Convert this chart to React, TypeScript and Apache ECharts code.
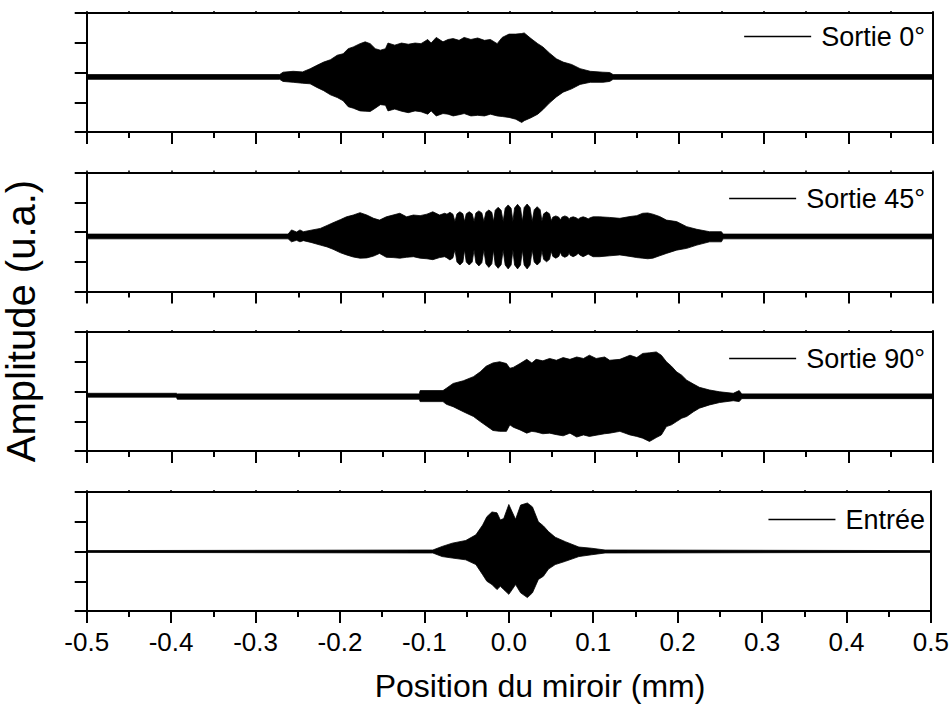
import React, { useEffect, useRef } from "react";
import * as echarts from "echarts";

// ---------- data ----------
const panelNames = ["Sortie 0°", "Sortie 45°", "Sortie 90°", "Entrée"];

// Sortie 0° : upper / lower envelope of the interferogram
const x0 = [-0.5, -0.272, -0.268, -0.256, -0.245, -0.236, -0.228, -0.22, -0.212, -0.204, -0.197, -0.191, -0.185, -0.177, -0.171, -0.165, -0.159, -0.153, -0.147, -0.144, -0.136, -0.128, -0.12, -0.112, -0.105, -0.097, -0.093, -0.087, -0.079, -0.073, -0.067, -0.06, -0.054, -0.046, -0.038, -0.03, -0.023, -0.015, -0.009, -0.001, 0.007, 0.014, 0.017, 0.025, 0.033, 0.039, 0.047, 0.055, 0.063, 0.073, 0.083, 0.095, 0.11, 0.118, 0.122, 0.5];
const up0 = [-0.07, -0.07, 0.01, 0.04, 0.02, 0.125, 0.24, 0.35, 0.43, 0.58, 0.63, 0.8, 0.86, 0.97, 1.03, 0.97, 0.8, 0.75, 0.8, 0.99, 0.92, 0.99, 0.95, 0.99, 0.97, 1.11, 0.99, 1.18, 1.03, 1.11, 1.14, 1.08, 1.18, 1.11, 1.16, 1.08, 1.11, 0.97, 1.18, 1.29, 1.29, 1.31, 1.33, 1.14, 0.97, 0.86, 0.65, 0.46, 0.35, 0.27, 0.13, 0.04, 0.01, 0.0, -0.07, -0.07];
const lo0 = [-0.23, -0.23, -0.3, -0.33, -0.36, -0.38, -0.5, -0.61, -0.75, -0.84, -0.95, -1.15, -1.2, -1.29, -1.3, -1.31, -1.2, -1.08, -1.1, -1.29, -1.23, -1.3, -1.35, -1.29, -1.32, -1.4, -1.29, -1.46, -1.38, -1.4, -1.46, -1.42, -1.38, -1.46, -1.44, -1.46, -1.4, -1.46, -1.48, -1.51, -1.57, -1.68, -1.62, -1.52, -1.4, -1.25, -1.02, -0.82, -0.66, -0.55, -0.4, -0.33, -0.33, -0.3, -0.23, -0.23];

// Sortie 45°
const x45 = [-0.5, -0.262, -0.258, -0.252, -0.248, -0.244, -0.235, -0.224, -0.216, -0.209, -0.2, -0.193, -0.185, -0.177, -0.169, -0.161, -0.154, -0.146, -0.138, -0.13, -0.122, -0.114, -0.106, -0.098, -0.091, -0.083, -0.077,
  -0.0743, -0.0708, -0.0673, -0.0649, -0.0625, -0.059, -0.0555, -0.0535, -0.0515, -0.048, -0.0445, -0.0423, -0.0401, -0.0366, -0.0331, -0.0307, -0.0283, -0.0248, -0.0213, -0.0193, -0.0173, -0.0138, -0.0103, -0.0079, -0.0055, -0.002, 0.0015, 0.0036, 0.0056, 0.0091, 0.0126, 0.0148, 0.0169, 0.0204, 0.0239, 0.0264, 0.0288, 0.0323, 0.0358, 0.0379, 0.0399, 0.0434, 0.0469, 0.0489, 0.0508, 0.0543, 0.0578, 0.0597, 0.0615, 0.065, 0.0685, 0.07, 0.0713, 0.0748, 0.0783, 0.0807, 0.0831, 0.0866, 0.0901, 0.0925, 0.0949, 0.0984,
  0.106, 0.118, 0.13, 0.142, 0.15, 0.157, 0.163, 0.169, 0.177, 0.185, 0.197, 0.209, 0.221, 0.236, 0.25, 0.252, 0.5];
const up45 = [-0.07, -0.07, 0.07, 0.0, 0.07, 0.01, 0.06, 0.12, 0.22, 0.31, 0.42, 0.51, 0.57, 0.65, 0.57, 0.46, 0.4, 0.51, 0.57, 0.63, 0.51, 0.57, 0.55, 0.6, 0.68, 0.57, 0.63,
  0.6, 0.66, 0.6, 0.35, 0.61, 0.68, 0.61, 0.35, 0.61, 0.68, 0.61, 0.35, 0.64, 0.71, 0.64, 0.35, 0.66, 0.74, 0.66, 0.35, 0.73, 0.83, 0.73, 0.35, 0.8, 0.91, 0.8, 0.35, 0.81, 0.93, 0.81, 0.35, 0.82, 0.94, 0.82, 0.35, 0.75, 0.85, 0.75, 0.36, 0.61, 0.68, 0.61, 0.38, 0.5, 0.54, 0.5, 0.4, 0.5, 0.54, 0.5, 0.42, 0.48, 0.51, 0.48, 0.43, 0.48, 0.51, 0.48, 0.44, 0.48, 0.51,
  0.51, 0.49, 0.46, 0.52, 0.55, 0.63, 0.64, 0.6, 0.52, 0.4, 0.35, 0.18, 0.09, 0.01, 0.01, -0.07, -0.07];
const lo45 = [-0.23, -0.23, -0.33, -0.28, -0.33, -0.29, -0.35, -0.44, -0.5, -0.58, -0.7, -0.77, -0.84, -0.88, -0.87, -0.81, -0.72, -0.85, -0.86, -0.88, -0.85, -0.83, -0.88, -0.9, -0.93, -0.86, -0.83,
  -0.87, -0.94, -0.87, -0.6, -1.01, -1.11, -1.01, -0.6, -1.01, -1.11, -1.01, -0.6, -1.03, -1.14, -1.03, -0.6, -1.07, -1.19, -1.07, -0.6, -1.1, -1.22, -1.1, -0.6, -1.11, -1.24, -1.11, -0.6, -1.11, -1.24, -1.11, -0.6, -1.11, -1.24, -1.11, -0.6, -1.01, -1.11, -1.01, -0.62, -0.92, -1.0, -0.92, -0.65, -0.82, -0.88, -0.82, -0.68, -0.8, -0.85, -0.8, -0.7, -0.78, -0.83, -0.78, -0.72, -0.78, -0.83, -0.78, -0.74, -0.78, -0.83,
  -0.83, -0.8, -0.77, -0.82, -0.86, -0.88, -0.9, -0.88, -0.8, -0.72, -0.61, -0.55, -0.44, -0.33, -0.33, -0.23, -0.23];

// Sortie 90°
const x90 = [-0.5, -0.394, -0.393, -0.107, -0.106, -0.079, -0.075, -0.067, -0.055, -0.043, -0.035, -0.028, -0.02, -0.012, -0.004, 0.0, 0.004, 0.012, 0.02, 0.026, 0.031, 0.039, 0.047, 0.055, 0.063, 0.071, 0.079, 0.087, 0.094, 0.102, 0.112, 0.118, 0.13, 0.142, 0.15, 0.157, 0.165, 0.173, 0.179, 0.185, 0.191, 0.197, 0.203, 0.209, 0.217, 0.224, 0.236, 0.248, 0.264, 0.271, 0.274, 0.5];
const up90 = [-0.06, -0.06, -0.08, -0.08, 0.03, 0.03, 0.11, 0.27, 0.36, 0.5, 0.66, 0.85, 0.96, 1.0, 0.94, 0.78, 0.81, 0.94, 1.08, 0.96, 1.08, 1.03, 1.11, 1.05, 1.14, 1.08, 1.16, 1.11, 1.22, 1.11, 1.16, 1.05, 1.08, 1.22, 1.14, 1.28, 1.3, 1.33, 1.22, 1.0, 0.85, 0.66, 0.55, 0.38, 0.25, 0.14, 0.05, -0.01, -0.06, 0.03, -0.08, -0.08];
const lo90 = [-0.19, -0.19, -0.26, -0.26, -0.34, -0.34, -0.43, -0.51, -0.68, -0.84, -1.01, -1.15, -1.31, -1.34, -1.34, -1.12, -1.2, -1.29, -1.4, -1.34, -1.36, -1.42, -1.4, -1.45, -1.49, -1.4, -1.53, -1.46, -1.51, -1.47, -1.42, -1.4, -1.34, -1.46, -1.51, -1.57, -1.68, -1.55, -1.46, -1.18, -1.12, -1.01, -0.9, -0.84, -0.68, -0.56, -0.45, -0.37, -0.31, -0.34, -0.24, -0.24];

// Entrée
const xIn = [-0.5, -0.09, -0.079, -0.067, -0.051, -0.039, -0.031, -0.026, -0.02, -0.014, -0.01, -0.006, 0.0, 0.004, 0.008, 0.014, 0.022, 0.028, 0.035, 0.041, 0.047, 0.055, 0.067, 0.083, 0.098, 0.114, 0.5];
const upIn = [0.03, 0.05, 0.17, 0.28, 0.37, 0.56, 0.89, 1.17, 1.33, 1.3, 1.06, 1.11, 1.58, 1.33, 1.08, 1.56, 1.63, 1.5, 1.0, 0.86, 0.67, 0.48, 0.33, 0.15, 0.11, 0.05, 0.03];
const loIn = [-0.03, -0.05, -0.17, -0.22, -0.28, -0.44, -0.78, -1.0, -1.11, -1.28, -1.17, -1.28, -1.44, -1.28, -1.11, -1.39, -1.55, -1.39, -0.94, -0.83, -0.59, -0.44, -0.33, -0.17, -0.11, -0.05, -0.03];

const xTickMin = -0.5;
const xTickMax = 0.5;
const xTickStep = 0.1;
const yMin = -2;
const yMax = 2;
const yStep = 1;

const xTitle = "Position du miroir (mm)";
const yTitle = "Amplitude (u.a.)";

// ---------- layout ----------
const FONT = "'Liberation Sans', Arial, sans-serif";
const FS_TICK = 26;
const FS_LEGEND = 27;
const FS_XTITLE = 32;
const FS_YTITLE = 40;
const gridLeft = 86.7;
const gridRight = 19;
const gridTops = [13, 172.5, 332, 492];
const gridHeight = 119;
const legendTops = [23, 185, 345, 506];

const panels = [
  { x: x0, up: up0, lo: lo0 },
  { x: x45, up: up45, lo: lo45 },
  { x: x90, up: up90, lo: lo90 },
  { x: xIn, up: upIn, lo: loIn },
];

function buildOption(): any {
  const grid: any[] = [];
  const xAxis: any[] = [];
  const yAxis: any[] = [];
  const series: any[] = [];
  const legend: any[] = [];
  const black = "#000";

  panels.forEach((p, i) => {
    grid.push({ left: gridLeft, right: gridRight, top: gridTops[i], height: gridHeight });
    xAxis.push({
      type: "value",
      gridIndex: i,
      position: "bottom",
      min: xTickMin,
      max: xTickMax,
      interval: xTickStep,
      axisLine: { show: true, onZero: false, lineStyle: { color: black, width: 2 } },
      axisTick: { show: true, inside: false, length: 12, lineStyle: { color: black, width: 2 } },
      minorTick: { show: true, splitNumber: 2, length: 6, lineStyle: { color: black, width: 2 } },
      axisLabel: {
        show: i === panels.length - 1,
        margin: 18,
        fontSize: FS_TICK,
        fontFamily: FONT,
        color: black,
        formatter: (v: number) => v.toFixed(1),
      },
      splitLine: { show: false },
      minorSplitLine: { show: false },
    });
    xAxis.push({
      type: "value",
      gridIndex: i,
      position: "top",
      min: xTickMin,
      max: xTickMax,
      interval: xTickStep,
      axisLine: { show: true, onZero: false, lineStyle: { color: black, width: 2 } },
      axisTick: { show: true, inside: false, length: 2, lineStyle: { color: black, width: 1.5 } },
      minorTick: { show: true, splitNumber: 2, length: 2, lineStyle: { color: black, width: 1.5 } },
      axisLabel: { show: false },
      splitLine: { show: false },
    });
    yAxis.push({
      type: "value",
      gridIndex: i,
      position: "left",
      min: yMin,
      max: yMax,
      interval: yStep,
      axisLine: { show: true, onZero: false, lineStyle: { color: black, width: 2 } },
      axisTick: { show: true, inside: false, length: 12, lineStyle: { color: black, width: 2 } },
      axisLabel: { show: false },
      splitLine: { show: false },
    });
    yAxis.push({
      type: "value",
      gridIndex: i,
      position: "right",
      min: yMin,
      max: yMax,
      interval: yStep,
      axisLine: { show: true, onZero: false, lineStyle: { color: black, width: 2 } },
      axisTick: { show: false },
      axisLabel: { show: false },
      splitLine: { show: false },
    });

    const rows = p.x.map((xv, k) => [xv, p.up[k], p.lo[k]]);
    series.push({
      type: "custom",
      name: panelNames[i],
      xAxisIndex: 2 * i,
      yAxisIndex: 2 * i,
      color: black,
      encode: { x: 0, y: [1, 2] },
      data: rows,
      renderItem: (params: any, api: any) => {
        if (params.dataIndex !== 0) return null;
        const pts: number[][] = [];
        for (let k = 0; k < rows.length; k++) pts.push(api.coord([rows[k][0], rows[k][1]]));
        for (let k = rows.length - 1; k >= 0; k--) pts.push(api.coord([rows[k][0], rows[k][2]]));
        return {
          type: "polygon",
          shape: { points: pts },
          style: { fill: black, stroke: black, lineWidth: 0.8 },
        };
      },
    });

    legend.push({
      data: [{ name: panelNames[i], icon: "rect" }],
      right: 27,
      top: legendTops[i],
      padding: 0,
      itemWidth: 67,
      itemHeight: 1.3,
      itemStyle: { color: black },
      textStyle: { fontSize: FS_LEGEND, fontFamily: FONT, color: black, padding: [0, 0, 0, 5] },
      selectedMode: false,
    });
  });

  return {
    animation: false,
    backgroundColor: "#fff",
    grid,
    xAxis,
    yAxis,
    series,
    legend,
    graphic: [
      {
        type: "text",
        x: 540,
        y: 686,
        style: { text: xTitle, fontSize: FS_XTITLE, fontFamily: FONT, fill: black, textAlign: "center", textVerticalAlign: "middle" },
      },
      {
        type: "text",
        x: 21,
        y: 321,
        rotation: Math.PI / 2,
        style: { text: yTitle, fontSize: FS_YTITLE, fontFamily: FONT, fill: black, textAlign: "center", textVerticalAlign: "middle" },
      },
    ],
  };
}

export default function App() {
  const ref = useRef<HTMLDivElement>(null);
  useEffect(() => {
    if (!ref.current) return;
    const chart = echarts.init(ref.current, undefined, { renderer: "svg" });
    chart.setOption(buildOption());
    return () => chart.dispose();
  }, []);
  return (
    <div
      ref={ref}
      style={{ position: "fixed", left: 0, top: 0, width: 952, height: 713, background: "#fff" }}
    />
  );
}
